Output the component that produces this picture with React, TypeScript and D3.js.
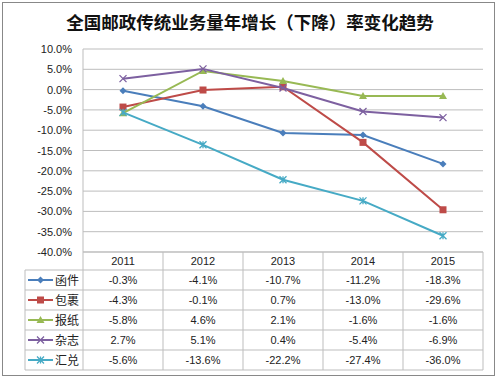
import React from "react";
import * as d3 from "d3";

const title = "全国邮政传统业务量年增长（下降）率变化趋势";
const years = ["2011", "2012", "2013", "2014", "2015"];
const seriesNames = ["函件", "包裹", "报纸", "杂志", "汇兑"];
const hanjian = [-0.3, -4.1, -10.7, -11.2, -18.3];
const baoguo = [-4.3, -0.1, 0.7, -13.0, -29.6];
const baozhi = [-5.8, 4.6, 2.1, -1.6, -1.6];
const zazhi = [2.7, 5.1, 0.4, -5.4, -6.9];
const huidui = [-5.6, -13.6, -22.2, -27.4, -36.0];
const yTicks = [10, 5, 0, -5, -10, -15, -20, -25, -30, -35, -40];
const colors = ["#4A7EBB", "#BE4B48", "#98B954", "#7D60A0", "#46AAC5"];
const markers = ["diamond", "square", "triangle", "x", "star"];

const seriesValues = [hanjian, baoguo, baozhi, zazhi, huidui];

function Marker({ type, x, y, color }: { type: string; x: number; y: number; color: string }) {
  const s = 3.5;
  if (type === "diamond")
    return <path d={`M${x},${y - s}L${x + s},${y}L${x},${y + s}L${x - s},${y}Z`} fill={color} />;
  if (type === "square") return <rect x={x - 3.5} y={y - 3.5} width={7} height={7} fill={color} />;
  if (type === "triangle")
    return <path d={`M${x},${y - 4}L${x + 4},${y + 3}L${x - 4},${y + 3}Z`} fill={color} />;
  if (type === "x")
    return (
      <path d={`M${x - s},${y - s}L${x + s},${y + s}M${x - s},${y + s}L${x + s},${y - s}`} stroke={color} strokeWidth={1.3} />
    );
  return (
    <path
      d={`M${x - s},${y - s}L${x + s},${y + s}M${x - s},${y + s}L${x + s},${y - s}M${x},${y - s}L${x},${y + s}`}
      stroke={color}
      strokeWidth={1.3}
    />
  );
}

export default function App() {
  const W = 500, H = 380;
  const left = 83, right = 483, top = 49, bottom = 252;
  const x = d3.scaleBand<string>().domain(years).range([left, right]);
  const y = d3.scaleLinear().domain([-40, 10]).range([bottom, top]);
  const line = d3
    .line<number>()
    .x((_, i) => (x(years[i]) as number) + x.bandwidth() / 2)
    .y((v) => y(v));
  const tableLeft = 25;
  const headerH = 18;
  const rowH = 20;
  const tableBottom = bottom + headerH + rowH * seriesNames.length;
  const font = "'Liberation Sans', Arial, sans-serif";
  const cjk = "'Noto Sans CJK SC', sans-serif";
  const fmt = (v: number) => `${v.toFixed(1)}%`;
  return (
    <svg width={W} height={H} style={{ position: "absolute", left: 0, top: 0 }}>
      <rect x={0} y={0} width={W} height={H} fill="#fff" />
      <rect x={2.5} y={2.5} width={492} height={373} fill="none" stroke="#888" strokeWidth={1} />
      <text x={250} y={29} textAnchor="middle" fontFamily={cjk} fontWeight="bold" fontSize={17.5} fill="#111">
        {title}
      </text>
      {yTicks.map((t) => (
        <g key={t}>
          <line x1={left} x2={right} y1={y(t)} y2={y(t)} stroke="#bdbdbd" strokeWidth={1} />
          <text x={72} y={y(t) + 4} textAnchor="end" fontFamily={font} fontSize={11} fill="#222">
            {t.toFixed(1) + "%"}
          </text>
        </g>
      ))}
      <line x1={left} x2={left} y1={top} y2={bottom} stroke="#bdbdbd" />
      {seriesValues.map((vals, si) => (
        <g key={si}>
          <path d={line(vals) || ""} fill="none" stroke={colors[si]} strokeWidth={2} />
          {vals.map((v, i) => (
            <Marker
              key={i}
              type={markers[si]}
              x={(x(years[i]) as number) + x.bandwidth() / 2}
              y={y(v)}
              color={colors[si]}
            />
          ))}
        </g>
      ))}
      {/* data table */}
      <g>
        {years.map((yr) => (
          <line key={yr} x1={x(yr) as number} x2={x(yr) as number} y1={bottom} y2={tableBottom} stroke="#bdbdbd" />
        ))}
        <line x1={right} x2={right} y1={bottom} y2={tableBottom} stroke="#bdbdbd" />
        <line x1={tableLeft} x2={tableLeft} y1={bottom + headerH} y2={tableBottom} stroke="#bdbdbd" />
        <line x1={left} x2={right} y1={bottom} y2={bottom} stroke="#bdbdbd" />
        {seriesNames.map((_, i) => (
          <line
            key={i}
            x1={tableLeft}
            x2={right}
            y1={bottom + headerH + rowH * i}
            y2={bottom + headerH + rowH * i}
            stroke="#bdbdbd"
          />
        ))}
        <line x1={tableLeft} x2={right} y1={tableBottom} y2={tableBottom} stroke="#bdbdbd" />
        {years.map((yr) => (
          <text
            key={yr}
            x={(x(yr) as number) + x.bandwidth() / 2}
            y={bottom + 13}
            textAnchor="middle"
            fontFamily={font}
            fontSize={11}
            fill="#222"
          >
            {yr}
          </text>
        ))}
        {seriesNames.map((name, si) => {
          const cy = bottom + headerH + rowH * si + rowH / 2;
          return (
            <g key={name}>
              <line x1={28} x2={53} y1={cy} y2={cy} stroke={colors[si]} strokeWidth={2} />
              <Marker type={markers[si]} x={40.5} y={cy} color={colors[si]} />
              <text x={55} y={cy + 4.5} fontFamily={cjk} fontSize={12} fill="#222">
                {name}
              </text>
              {seriesValues[si].map((v, i) => (
                <text
                  key={i}
                  x={(x(years[i]) as number) + x.bandwidth() / 2}
                  y={cy + 4}
                  textAnchor="middle"
                  fontFamily={font}
                  fontSize={11}
                  fill="#222"
                >
                  {fmt(v)}
                </text>
              ))}
            </g>
          );
        })}
      </g>
    </svg>
  );
}
